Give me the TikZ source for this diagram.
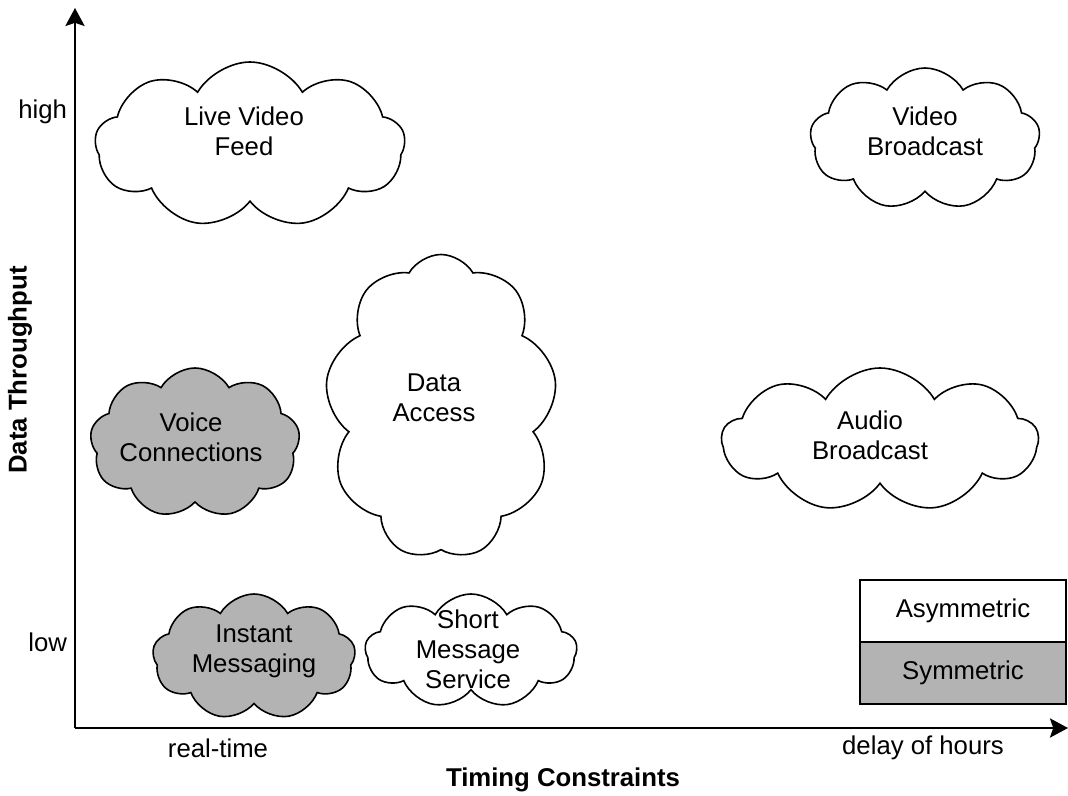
\documentclass[tikz,border=0pt]{standalone}
\usepackage{fontspec}
\setmainfont{Liberation Sans}
\usepackage{tikz}
\usetikzlibrary{positioning, shapes.symbols, arrows.meta, calc}
\definecolor{symgray}{RGB}{179,179,179}

\begin{document}
\begin{tikzpicture}[x=0.025cm, y=-0.025cm,
    font=\fontsize{18.3}{21.3}\selectfont,
    wolke/.style={cloud, cloud puffs=9, cloud puff arc=120, cloud ignores aspect,
        draw=black, line width=0.04cm, inner sep=0pt},
    axis/.style={line width=0.05cm, -{Stealth[length=0.45cm, width=0.48cm, inset=0.08cm]}},
    legendbox/.style={draw=black, line width=0.04cm, outer sep=0pt,
        minimum width=5.15cm, minimum height=1.55cm}]

    \useasboundingbox (0,0) rectangle (1068,796);

    % axes
    \coordinate (origin) at (75,728);
    \coordinate (ytop) at (75,8);
    \coordinate (xend) at (1068,728);
    \draw[axis] (origin) -- (ytop);
    \draw[axis] (origin) -- (xend);

    % axis texts
    \node[anchor=east] (high) at (72,112) {high};
    \node[anchor=east] (low) at (72,642) {low};
    \node (realtime) at (218,748) {real-time};
    \node (hours) at (923,748) {delay of hours};
    \node[font=\fontsize{18.3}{21.3}\selectfont\bfseries] (xlabel) at (563,780) {Timing Constraints};
    \node[rotate=90, font=\fontsize{18.3}{21.3}\selectfont\bfseries] (ylabel) at (20,370) {Data Throughput};

    % clouds
    \foreach \name/\cx/\cy/\w/\h/\co in {
        lvf/250/145/310/166/white,
        vb/925/139/230/142/white,
        da/441/407/232/305/white,
        vc/195/443/210/150/symgray,
        ab/880/440/316/144/white,
        im/254/657/203/126/symgray,
        sms/471/651/212/114/white}{

        \node[wolke, fill=\co, minimum width=\w*0.025cm, minimum height=\h*0.025cm]
            (\name) at (\cx,\cy) {};
    }

    \foreach \name/\tx/\ty/\txt in {
        lvf/244/131/{Live Video\\Feed},
        vb/925/131/{Video\\Broadcast},
        da/434/398/{Data\\Access},
        vc/191/437/{Voice\\Connections},
        ab/870/435/{Audio\\Broadcast},
        im/254/651/{Instant\\Messaging},
        sms/468/649/{Short\\Message\\Service}}{

        \node[align=center, inner sep=0pt] (\name-text) at (\tx,\ty) {\txt};
    }

    % legend
    \node[legendbox, fill=white] (asym) at (963,611) {Asymmetric};
    \node[legendbox, fill=symgray, below=0pt of asym] (sym) {Symmetric};
\end{tikzpicture}
\end{document}
